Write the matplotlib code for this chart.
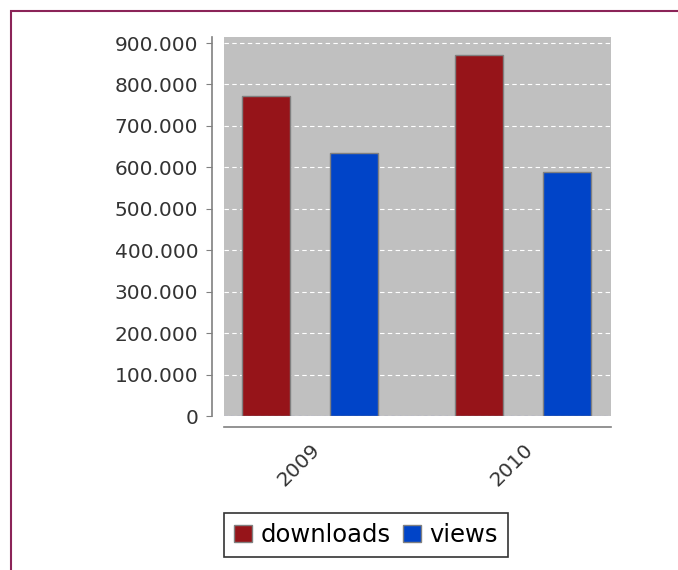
import matplotlib
matplotlib.use('Agg')
import matplotlib.pyplot as plt
from matplotlib.ticker import FuncFormatter
from matplotlib.patches import Rectangle, Patch
import numpy as np

years = ['2009', '2010']
downloads = [772000, 871000]
views = [635000, 589000]
series_names = ['downloads', 'views']
colors = ['#961419', '#0044c8']

W, H = 678, 570
fig = plt.figure(figsize=(W / 100, H / 100), dpi=100)

# outer chart border (only top and left edges are visible)
fig.patches.append(Rectangle((11 / W, -0.1), 1.2, (H - 11) / H + 0.1,
                             transform=fig.transFigure, fill=False,
                             edgecolor='#8b2458', linewidth=1.5))

ax = fig.add_axes([224 / W, (H - 416) / H, 387 / W, 379 / H])
ax.set_facecolor('#c0c0c0')

x = np.arange(len(years))
off = 0.205
bw = 0.225
ax.bar(x - off, downloads, bw, color=colors[0], edgecolor='#808080', linewidth=1, zorder=3)
ax.bar(x + off, views, bw, color=colors[1], edgecolor='#808080', linewidth=1, zorder=3)

top = max(max(downloads), max(views)) * 1.05
ax.set_ylim(0, top)
ax.set_xlim(-0.404, 1.413)

ticks = np.arange(0, 900001, 100000)
ax.set_yticks(ticks)
ax.yaxis.set_major_formatter(FuncFormatter(lambda v, p: '0' if v == 0 else f'{int(v):,}'.replace(',', '.')))
ax.grid(axis='y', color='white', linestyle=(0, (4, 3)), linewidth=0.8, zorder=1)
ax.axhline(0, color='#6a6aee', linestyle=(0, (3, 3)), linewidth=0.8, zorder=4)

for s in ['top', 'right']:
    ax.spines[s].set_visible(False)
ax.spines['left'].set_position(('outward', 8.5))
ax.spines['bottom'].set_position(('outward', 8))
ax.spines['left'].set_color('#808080')
ax.spines['bottom'].set_color('#808080')
ax.spines['left'].set_linewidth(1.2)
ax.spines['bottom'].set_linewidth(1.2)

ax.set_xticks(x)
ax.set_xticklabels(years, rotation=45, ha='right', rotation_mode='anchor')
ax.tick_params(axis='x', length=0, pad=9, labelsize=14.5, labelcolor='#333333')
ax.tick_params(axis='y', length=4, color='#808080', labelsize=14.5, labelcolor='#333333', pad=6)
for lbl in ax.get_xticklabels():
    lbl.set_x(lbl.get_position()[0])

handles = [Patch(facecolor=c, edgecolor='#808080') for c in colors]
leg = fig.legend(handles, series_names, loc='center', bbox_to_anchor=(366 / W, 1 - 535 / H),
                 ncol=2, fontsize=17.5, frameon=True, fancybox=False, edgecolor='black',
                 handlelength=0.75, handleheight=0.75, handletextpad=0.35, columnspacing=0.5,
                 borderpad=0.42, borderaxespad=0)
leg.get_frame().set_linewidth(1.2)

fig.savefig('out.png', dpi=100)
